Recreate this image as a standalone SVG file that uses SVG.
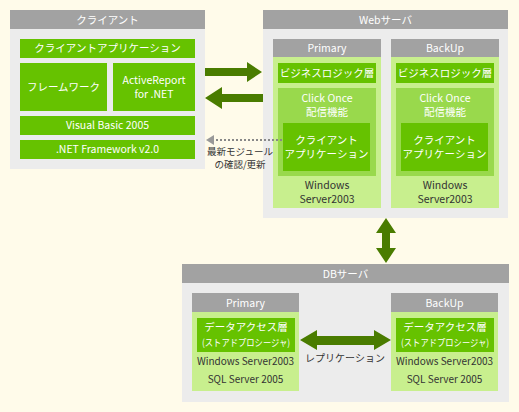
<svg xmlns="http://www.w3.org/2000/svg" width="519" height="412" viewBox="0 0 519 412">
<style>
text{font-family:"Noto Sans CJK JP","Noto Sans",sans-serif;font-size:10.5px;text-anchor:middle}
.w{fill:#fff}
.d{fill:#333}
.hd{fill:#a2a2a2}
.pn{fill:#ececec}
.g{fill:#66c200}
.lg{fill:#c8ef8e}
.mg{fill:#99d94c}
.ar{fill:#4a7c00}
.s{font-size:10px}
.p{font-size:9.5px}
</style>
<rect width="519" height="412" fill="#fffbea"/>
<g id="client">
<rect class="pn" x="10" y="10" width="195" height="159"/>
<rect class="hd" x="10" y="10" width="195" height="19"/>
<text class="w" x="107.5" y="23.5">クライアント</text>
<rect class="g" x="20" y="39" width="175" height="19"/>
<text class="w" x="107.5" y="52">クライアントアプリケーション</text>
<rect class="g" x="20" y="63" width="87" height="48"/>
<text class="w" x="63.5" y="90.5">フレームワーク</text>
<rect class="g" x="113" y="63" width="82" height="48"/>
<text class="w" x="154" y="84">ActiveReport</text>
<text class="w" x="154" y="98">for .NET</text>
<rect class="g" x="20" y="116" width="175" height="19"/>
<text class="w" x="107.5" y="129">Visual Basic 2005</text>
<rect class="g" x="20" y="140" width="175" height="19"/>
<text class="w" x="107.5" y="153">.NET Framework v2.0</text>
</g>
<g id="web">
<rect class="pn" x="263" y="10" width="245" height="208"/>
<rect class="hd" x="263" y="10" width="245" height="19"/>
<text class="w" x="385.5" y="23.5">Webサーバ</text>
</g>
<g id="web-primary">
<rect class="lg" x="273" y="39" width="108" height="169"/>
<rect class="hd" x="273" y="39" width="108" height="18"/>
<text class="w" x="327" y="52">Primary</text>
<rect class="g" x="278" y="63" width="98" height="20"/>
<text class="w" x="327" y="77">ビジネスロジック層</text>
<rect class="mg" x="278" y="88" width="98" height="88"/>
<text class="w" x="327" y="102">Click Once</text>
<text class="w" x="327" y="116">配信機能</text>
<rect class="g" x="283" y="123" width="87" height="48"/>
<text class="w" x="326.5" y="144">クライアント</text>
<text class="w" x="326.5" y="158">アプリケーション</text>
<text class="d" x="327" y="189">Windows</text>
<text class="d" x="327" y="203">Server2003</text>
</g>
<g id="web-backup">
<rect class="lg" x="391" y="39" width="108" height="169"/>
<rect class="hd" x="391" y="39" width="108" height="18"/>
<text class="w" x="445" y="52">BackUp</text>
<rect class="g" x="396" y="63" width="98" height="20"/>
<text class="w" x="445" y="77">ビジネスロジック層</text>
<rect class="mg" x="396" y="88" width="98" height="88"/>
<text class="w" x="445" y="102">Click Once</text>
<text class="w" x="445" y="116">配信機能</text>
<rect class="g" x="401" y="123" width="87" height="48"/>
<text class="w" x="444.5" y="144">クライアント</text>
<text class="w" x="444.5" y="158">アプリケーション</text>
<text class="d" x="445" y="189">Windows</text>
<text class="d" x="445" y="203">Server2003</text>
</g>
<g id="db">
<rect class="pn" x="182" y="264" width="327" height="138"/>
<rect class="hd" x="182" y="264" width="327" height="19"/>
<text class="w" x="345.5" y="277.5">DBサーバ</text>
</g>
<g id="db-primary">
<rect class="lg" x="192" y="293" width="107" height="98"/>
<rect class="hd" x="192" y="293" width="107" height="19"/>
<text class="w" x="245.5" y="306.5">Primary</text>
<rect class="g" x="197" y="318" width="98" height="34"/>
<text class="w" x="246" y="331">データアクセス層</text>
<text class="w p" x="246" y="346" textLength="88" lengthAdjust="spacingAndGlyphs">(ストアドプロシージャ)</text>
<text class="d s" x="245.5" y="365">Windows Server2003</text>
<text class="d s" x="245.5" y="383">SQL Server 2005</text>
</g>
<g id="db-backup">
<rect class="lg" x="391" y="293" width="107" height="98"/>
<rect class="hd" x="391" y="293" width="107" height="19"/>
<text class="w" x="444.5" y="306.5">BackUp</text>
<rect class="g" x="396" y="318" width="98" height="34"/>
<text class="w" x="445" y="331">データアクセス層</text>
<text class="w p" x="445" y="346" textLength="88" lengthAdjust="spacingAndGlyphs">(ストアドプロシージャ)</text>
<text class="d s" x="444.5" y="365">Windows Server2003</text>
<text class="d s" x="444.5" y="383">SQL Server 2005</text>
</g>
<g id="connectors">
<polygon class="ar" points="205,68 247,68 247,62 262,72 247,82 247,76 205,76"/>
<polygon class="ar" points="263,94 222,94 222,87 205,98 222,109 222,102 263,102"/>
<line x1="282" y1="140" x2="213" y2="140" stroke="#888" stroke-width="2" stroke-dasharray="2,2"/>
<polygon points="206,140 214,135 214,145" fill="#999"/>
<text class="d p" x="240" y="155">最新モジュール</text>
<text class="d p" x="240" y="167.5">の確認/更新</text>
<polygon class="ar" points="386,218 396,233 390,233 390,248 396,248 386,263 376,248 382,248 382,233 376,233"/>
<polygon class="ar" points="300,340 317,330 317,336 374,336 374,330 391,340 374,350 374,345 317,345 317,350"/>
<text class="d s" x="345" y="362">レプリケーション</text>
</g>
</svg>
